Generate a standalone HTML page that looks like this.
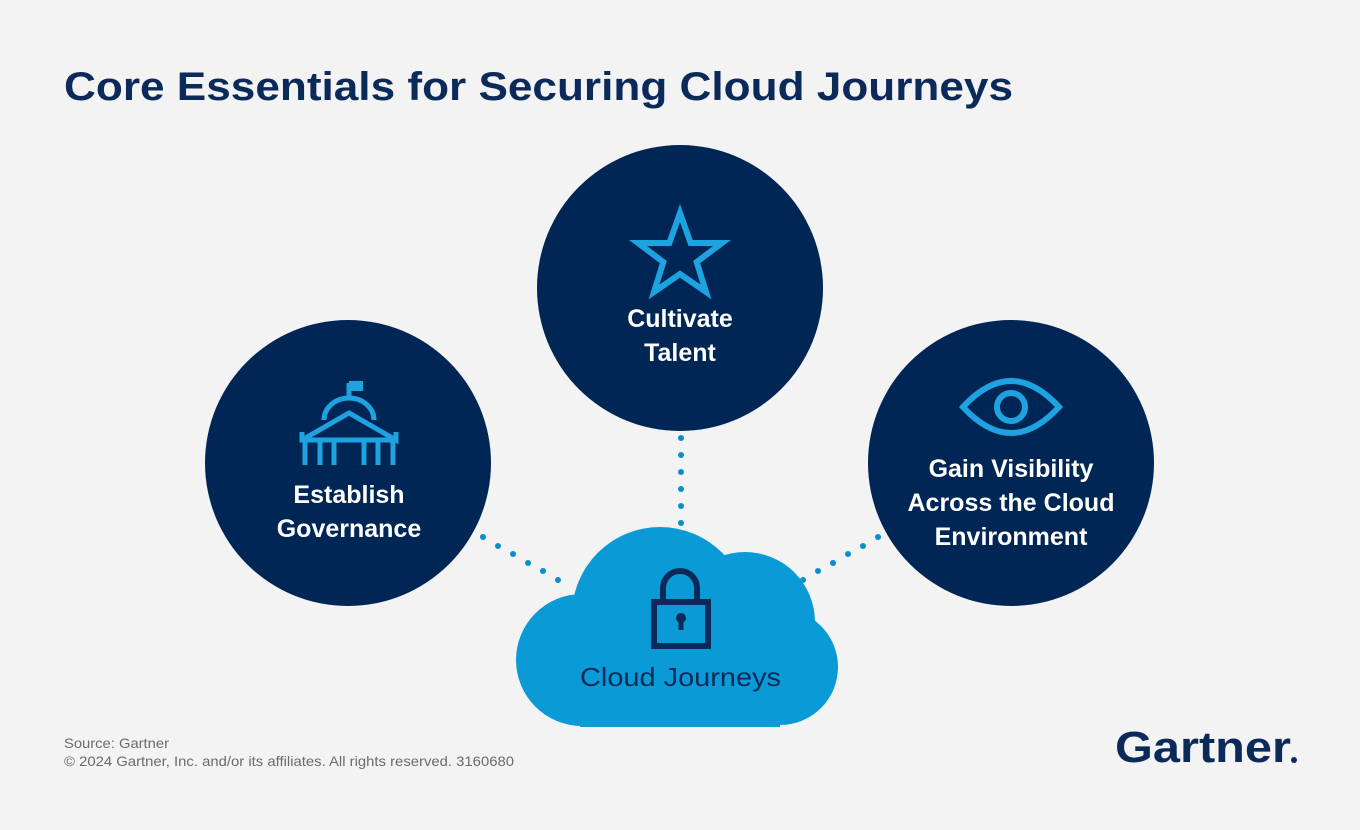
<!DOCTYPE html>
<html><head><meta charset="utf-8"><style>
body{margin:0;width:1360px;height:830px;background:#f3f3f3;overflow:hidden;font-family:"Liberation Sans",sans-serif}
</style></head><body>
<svg width="1360" height="830" viewBox="0 0 1360 830" xmlns="http://www.w3.org/2000/svg" style="position:absolute;left:0;top:0">
<rect width="1360" height="830" fill="#f3f3f3"/>
<text x="64" y="100" font-family="Liberation Sans, sans-serif" font-weight="bold" font-size="40" fill="#0b2a5a" textLength="949" lengthAdjust="spacingAndGlyphs">Core Essentials for Securing Cloud Journeys</text>
<g fill="#0a8fc9">
<circle cx="681" cy="438" r="3"/><circle cx="681" cy="455" r="3"/><circle cx="681" cy="472" r="3"/><circle cx="681" cy="489" r="3"/><circle cx="681" cy="506" r="3"/><circle cx="681" cy="523" r="3"/>
<circle cx="483" cy="537" r="3"/><circle cx="498" cy="546" r="3"/><circle cx="513" cy="554" r="3"/><circle cx="528" cy="563" r="3"/><circle cx="543" cy="571" r="3"/><circle cx="558" cy="580" r="3"/>
<circle cx="803" cy="580" r="3"/><circle cx="818" cy="571" r="3"/><circle cx="833" cy="563" r="3"/><circle cx="848" cy="554" r="3"/><circle cx="863" cy="546" r="3"/><circle cx="878" cy="537" r="3"/>
</g>
<g fill="#002655">
<circle cx="348" cy="463" r="143"/>
<circle cx="680" cy="288" r="143"/>
<circle cx="1011" cy="463" r="143"/>
</g>
<g fill="#0a9ad6">
<circle cx="660" cy="615" r="88"/>
<circle cx="745" cy="622" r="70"/>
<circle cx="582" cy="660" r="66"/>
<circle cx="780" cy="667" r="58"/>
<rect x="580" y="640" width="200" height="87"/>
</g>
<g fill="none" stroke="#0b2a5a" stroke-width="6">
<path d="M663 602 V588 a17 17 0 0 1 34 0 V602"/>
<rect x="654" y="602" width="54" height="44"/>
</g>
<circle cx="681" cy="618" r="5" fill="#0b2a5a"/><rect x="678.5" y="618" width="5" height="12" fill="#0b2a5a"/>
<text x="580" y="686" font-size="26" fill="#0b2a5a" font-family="Liberation Sans, sans-serif" textLength="201" lengthAdjust="spacingAndGlyphs">Cloud Journeys</text>
<g fill="none" stroke="#1ea3e0" stroke-width="5">
<path d="M349 383 V400"/>
<path d="M324 420 a25 22 0 0 1 50 0"/>
<path d="M302 440 L349 413 L396 440 V432"/>
<path d="M302 432 V440 H396"/>
<path d="M305 440 V465 M320 440 V465 M334 440 V465 M364 440 V465 M378 440 V465 M393 440 V465"/>
</g>
<rect x="349" y="381" width="14" height="10" fill="#1ea3e0"/>
<polygon points="680,213 690.6,243 722,243 696.7,262 706,292 680,274 654,292 663.3,262 638,243 669.4,243" fill="none" stroke="#1ea3e0" stroke-width="6"/>
<path d="M963 407 Q1011 355 1059 407 Q1011 459 963 407 Z" fill="none" stroke="#1ea3e0" stroke-width="6"/>
<circle cx="1011" cy="407" r="14" fill="none" stroke="#1ea3e0" stroke-width="6"/>
<g font-family="Liberation Sans, sans-serif" font-weight="bold" font-size="25" fill="#fff" text-anchor="middle">
<text x="349" y="503">Establish</text><text x="349" y="537">Governance</text>
<text x="680" y="327">Cultivate</text><text x="680" y="361">Talent</text>
<text x="1011" y="477">Gain Visibility</text><text x="1011" y="511">Across the Cloud</text><text x="1011" y="545">Environment</text>
</g>
<g font-family="Liberation Sans, sans-serif" font-size="14" fill="#6b6b6b">
<text x="64" y="748" textLength="105" lengthAdjust="spacingAndGlyphs">Source: Gartner</text>
<text x="64" y="766" textLength="450" lengthAdjust="spacingAndGlyphs">© 2024 Gartner, Inc. and/or its affiliates. All rights reserved. 3160680</text>
</g>
<text x="1115" y="762" font-family="Liberation Sans, sans-serif" font-weight="bold" font-size="44" fill="#0b2a5a" textLength="176" lengthAdjust="spacingAndGlyphs">Gartner</text>
<circle cx="1294" cy="760" r="3" fill="#0b2a5a"/>
</svg>
</body></html>
